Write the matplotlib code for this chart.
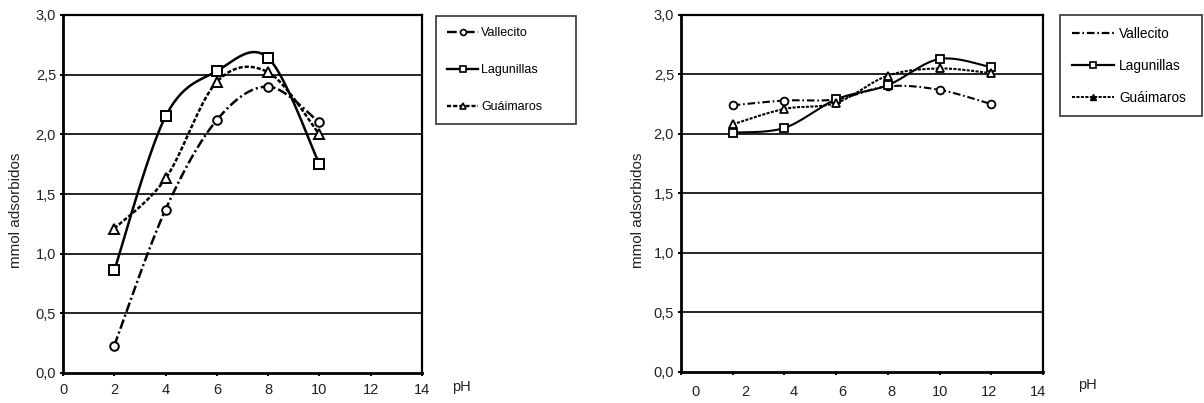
import numpy as np
import matplotlib
matplotlib.use('Agg')
import matplotlib.pyplot as plt
from matplotlib.lines import Line2D

plt.rcParams['font.family'] = ['Liberation Sans', 'DejaVu Sans']
plt.rcParams['lines.scale_dashes'] = False

# datos
ph_a = [2, 4, 6, 8, 10]
vallecito_a = [0.23, 1.37, 2.12, 2.40, 2.10]
lagunillas_a = [0.86, 2.15, 2.53, 2.64, 1.75]
guaimaros_a = [1.21, 1.63, 2.44, 2.52, 2.00]

ph_b = [2, 4, 6, 8, 10, 12]
vallecito_b = [2.24, 2.28, 2.29, 2.40, 2.37, 2.25]
lagunillas_b = [2.01, 2.05, 2.29, 2.41, 2.63, 2.56]
guaimaros_b = [2.08, 2.21, 2.26, 2.49, 2.55, 2.51]

names = ['Vallecito', 'Lagunillas', 'Guáimaros']
xtick_labels = ['0', '2', '4', '6', '8', '10', '12', '14']
ytick_labels = ['0,0', '0,5', '1,0', '1,5', '2,0', '2,5', '3,0']

TXT = '#222222'


def smooth(xs, ys, n=30):
    # curva suavizada tipo Excel (Bezier / Catmull-Rom)
    pts = np.column_stack([xs, ys]).astype(float)
    out = [pts[0]]
    for i in range(len(pts) - 1):
        p0 = pts[i - 1] if i > 0 else pts[i]
        p1, p2 = pts[i], pts[i + 1]
        p3 = pts[i + 2] if i + 2 < len(pts) else pts[i + 1]
        c1 = p1 + (p2 - p0) / 6
        c2 = p2 - (p3 - p1) / 6
        t = np.linspace(0, 1, n)[1:, None]
        seg = (1 - t)**3*p1 + 3*(1 - t)**2*t*c1 + 3*(1 - t)*t**2*c2 + t**3*p2
        out.extend(seg)
    return np.array(out)


W, H = 1204, 403
fig = plt.figure(figsize=(W/100, H/100), dpi=100)
ax1 = fig.add_axes([63/W, 1 - 373/H, 359/W, 358/H])
ax2 = fig.add_axes([681/W, 1 - 371.5/H, 362/W, 356.5/H])


def style_axes(ax):
    ax.set_xlim(0, 14)
    ax.set_ylim(0, 3)
    ax.set_yticks(np.arange(0, 3.01, 0.5))
    ax.set_yticklabels(ytick_labels, fontsize=10.5, color=TXT)
    ax.set_xticks(np.arange(0, 14.1, 2))
    for y in np.arange(0.5, 3.01, 0.5):
        ax.axhline(y, color='black', lw=1.2, zorder=1)
    for s in ['left', 'bottom']:
        ax.spines[s].set_linewidth(2.0)
    for s in ['top', 'right']:
        ax.spines[s].set_linewidth(1.6)
    ax.tick_params(axis='both', length=2.5, width=1.4, direction='out', pad=2.5)
    ax.set_ylabel('mmol adsorbidos', fontsize=11, color=TXT)


# ---- grafica izquierda ----
style_axes(ax1)
ax1.set_xticklabels(xtick_labels, fontsize=10.5, color=TXT)
ax1.tick_params(axis='x', pad=4.5)
ax1.yaxis.set_label_coords(-0.1125, 0.455)
ax1.text(1.109, -0.039, 'pH', transform=ax1.transAxes, fontsize=10.5,
         ha='center', va='center', color=TXT)

styles_a = [
    dict(dashes=(7, 2.2, 1.5, 2.2), marker='o', ms=6.2),
    dict(dashes=None, marker='s', ms=6.6),
    dict(dashes=(3, 1.4), marker='^', ms=7),
]
for ys, st in zip([vallecito_a, lagunillas_a, guaimaros_a], styles_a):
    c = smooth(ph_a, ys)
    if st['dashes'] is None:
        ax1.plot(c[:, 0], c[:, 1], color='black', lw=1.8, zorder=3)
    else:
        ax1.plot(c[:, 0], c[:, 1], color='black', lw=1.8, dashes=st['dashes'], zorder=3)
    ax1.plot(ph_a, ys, ls='none', marker=st['marker'], ms=st['ms'], mfc='white',
             mec='black', mew=1.4, zorder=4)

h1 = [
    Line2D([], [], color='black', lw=1.7, dashes=(7, 2.2, 1.5, 2.2), marker='o', ms=4.2,
           mfc='white', mec='black', mew=1.2),
    Line2D([], [], color='black', lw=1.7, marker='s', ms=4.6, mfc='white', mec='black', mew=1.2),
    Line2D([], [], color='black', lw=1.7, dashes=(3, 1.4), marker='^', ms=4.6,
           mfc='white', mec='black', mew=1.2),
]
leg1 = fig.legend(h1, names, loc='upper left', bbox_to_anchor=(436/W, 1 - 16/H, 140/W, 0),
                  mode='expand', borderaxespad=0, fontsize=9, handlelength=2.5,
                  handletextpad=0.25, labelspacing=2.0, borderpad=0.88, fancybox=False,
                  numpoints=1, frameon=True)
leg1.get_frame().set_edgecolor('black')
leg1.get_frame().set_linewidth(1.2)

# ---- grafica derecha ----
style_axes(ax2)
ax2.set_xticklabels([])
ax2.yaxis.set_label_coords(-0.0994, 0.453)
for i, lab in enumerate(xtick_labels):
    ax2.text((15 + 48.9*i)/362, -0.0575, lab, transform=ax2.transAxes, fontsize=10.5,
             ha='center', va='center', color=TXT)
ax2.text(1.1215, -0.038, 'pH', transform=ax2.transAxes, fontsize=10.5,
         ha='center', va='center', color=TXT)

styles_b = [
    dict(dashes=(5.5, 2, 1.2, 2), marker='o', ms=5.6),
    dict(dashes=None, marker='s', ms=5.6),
    dict(dashes=(2.2, 1), marker='^', ms=6),
]
for ys, st in zip([vallecito_b, lagunillas_b, guaimaros_b], styles_b):
    c = smooth(ph_b, ys)
    if st['dashes'] is None:
        ax2.plot(c[:, 0], c[:, 1], color='black', lw=1.5, zorder=3)
    else:
        ax2.plot(c[:, 0], c[:, 1], color='black', lw=1.5, dashes=st['dashes'], zorder=3)
    ax2.plot(ph_b, ys, ls='none', marker=st['marker'], ms=st['ms'], mfc='white',
             mec='black', mew=1.3, zorder=4)

h2 = [
    Line2D([], [], color='black', lw=1.6, dashes=(5.5, 2, 1.2, 2)),
    Line2D([], [], color='black', lw=1.6, marker='s', ms=3.8, mfc='white', mec='black', mew=1.2),
    Line2D([], [], color='black', lw=1.4, dashes=(2.2, 1), marker='^', ms=3.8,
           mfc='black', mec='black', mew=1),
]
leg2 = fig.legend(h2, names, loc='upper left', bbox_to_anchor=(1060/W, 1 - 15/H, 142/W, 0),
                  mode='expand', borderaxespad=0, fontsize=9.8, handlelength=3.1,
                  handletextpad=0.38, labelspacing=1.32, borderpad=0.85, fancybox=False,
                  numpoints=1, frameon=True)
leg2.get_frame().set_edgecolor('black')
leg2.get_frame().set_linewidth(1.2)

fig.savefig('out.png', dpi=100, facecolor='white')
